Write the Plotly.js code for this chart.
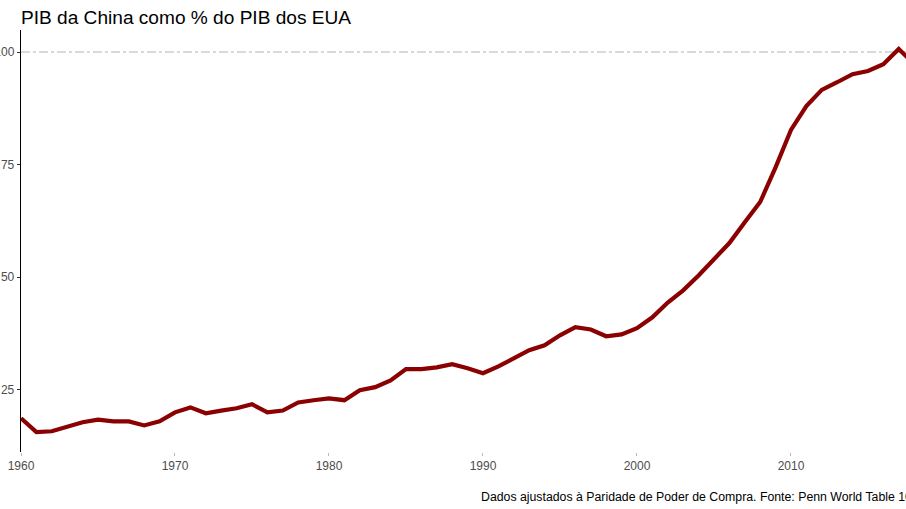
<!DOCTYPE html>
<html>
<head>
<meta charset="utf-8">
<script src="https://cdn.plot.ly/plotly-3.0.1.min.js"></script>
<style>html,body{margin:0;padding:0;background:#fff;}#chart{width:906px;height:509px;}</style>
</head>
<body>
<div id="chart"></div>
<script>
const years = [1960,1961,1962,1963,1964,1965,1966,1967,1968,1969,
  1970,1971,1972,1973,1974,1975,1976,1977,1978,1979,
  1980,1981,1982,1983,1984,1985,1986,1987,1988,1989,
  1990,1991,1992,1993,1994,1995,1996,1997,1998,1999,
  2000,2001,2002,2003,2004,2005,2006,2007,2008,2009,
  2010,2011,2012,2013,2014,2015,2016,2017,2018];
const pibPct = [18.7,15.6,15.8,16.7,17.8,18.4,18.0,18.0,17.1,18.0,
  20.0,21.1,19.8,20.4,20.9,21.8,20.0,20.4,22.2,22.7,
  23.1,22.7,24.9,25.6,27.1,29.6,29.6,30.0,30.7,29.8,
  28.7,30.2,32.0,33.8,34.9,37.1,38.9,38.4,36.9,37.3,
  38.7,41.1,44.4,47.1,50.4,54.0,57.6,62.2,66.7,74.4,
  82.7,88.0,91.6,93.3,95.1,95.8,97.3,100.7,97.3];
const refLevel = 100;
const xTicks = [1960,1970,1980,1990,2000,2010];
const yTicks = [25,50,75,100];
const titleText = "PIB da China como % do PIB dos EUA";
const captionText = "Dados ajustados à Paridade de Poder de Compra. Fonte: Penn World Table 10.0";

const font = "Liberation Sans, Arial, sans-serif";
const trace = {
  x: years, y: pibPct, type: "scatter", mode: "lines",
  line: {color: "#8B0000", width: 4.2},
  hoverinfo: "skip"
};
const layout = {
  width: 906, height: 509,
  margin: {l: 21, r: 0, t: 30, b: 57, pad: 0},
  paper_bgcolor: "#ffffff", plot_bgcolor: "#ffffff",
  showlegend: false,
  font: {family: font, color: "#4d4d4d", size: 12},
  title: {text: titleText, font: {family: font, size: 19.1, color: "#000000"},
    xref: "container", x: 21/906, xanchor: "left", yref: "container", y: 1 - 17/509, yanchor: "middle"},
  xaxis: {range: [1960, 2017.47], tickvals: xTicks, ticktext: xTicks.map(String),
    showgrid: false, zeroline: false, showline: false,
    ticks: "outside", ticklen: 3, tickcolor: "#bbbbbb", tickwidth: 1,
    tickfont: {family: font, size: 12, color: "#4d4d4d"}},
  yaxis: {range: [11.2, 104.9], tickvals: yTicks, ticktext: yTicks.map(String),
    showgrid: false, zeroline: false, showline: true, linecolor: "#000000", linewidth: 1.3,
    ticks: "outside", ticklen: 3, tickcolor: "#333333", tickwidth: 1,
    tickfont: {family: font, size: 12, color: "#4d4d4d"}},
  shapes: [{type: "line", xref: "paper", x0: 0, x1: 1, yref: "y", y0: refLevel, y1: refLevel,
    line: {color: "#b3b3b3", width: 1.1, dash: "dashdot"}, layer: "below"}],
  annotations: [{text: captionText, xref: "paper", yref: "paper",
    x: (479 - 21) / 885, y: (452 - 497) / 422, xanchor: "left", yanchor: "middle",
    showarrow: false, font: {family: font, size: 12.3, color: "#000000"}}]
};
Plotly.newPlot("chart", [trace], layout, {displayModeBar: false, staticPlot: true});
</script>
</body>
</html>
